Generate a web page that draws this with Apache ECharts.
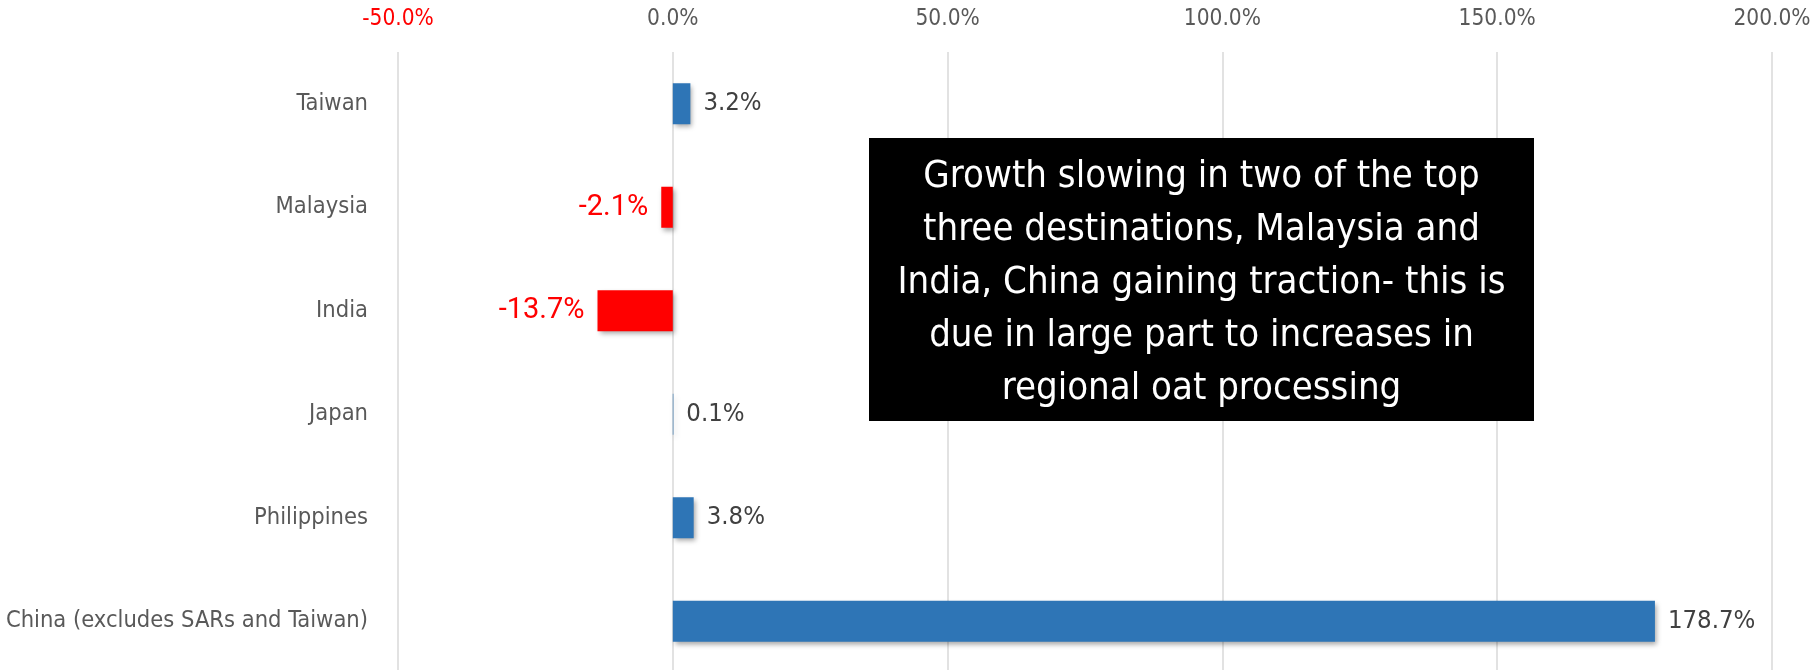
<!DOCTYPE html>
<html>
<head>
<meta charset="utf-8">
<script src="https://cdn.jsdelivr.net/npm/echarts@6/dist/echarts.min.js"></script>
<style>
  html, body { margin: 0; padding: 0; background: #ffffff; }
  #chart { width: 1814px; height: 670px; }
</style>
</head>
<body>
<div id="chart"></div>
<script>
// Export destinations and year-on-year growth (%)
const destinations = ['Taiwan', 'Malaysia', 'India', 'Japan', 'Philippines', 'China (excludes SARs and Taiwan)'];
const growthPct = [3.2, -2.1, -13.7, 0.1, 3.8, 178.7];
const axisTicks = { min: -50, max: 200, step: 50 };
const noteLines = [
  'Growth slowing in two of the top',
  'three destinations, Malaysia and',
  'India, China gaining traction- this is',
  'due in large part to increases in',
  'regional oat processing'
];

const NARROW = "'Liberation Sans Narrow', 'DejaVu Sans Condensed', 'Arial Narrow', sans-serif";
const BLUE = '#2E75B6';
const RED = '#FF0000';
const GREY = '#595959';

const barData = growthPct.map(v => {
  const neg = v < 0;
  return {
    value: v,
    itemStyle: { color: neg ? RED : BLUE },
    label: neg
      ? { position: 'left', color: RED, fontFamily: 'Roboto, sans-serif', fontSize: 29 }
      : { position: 'right', color: '#404040', fontFamily: NARROW, fontSize: 25.5 }
  };
});

const chart = echarts.init(document.getElementById('chart'), null, { renderer: 'canvas' });
chart.setOption({
  animation: false,
  backgroundColor: '#ffffff',
  grid: { left: 398, right: 42, top: 52, height: 621, containLabel: false, outerBoundsMode: 'none' },
  xAxis: {
    type: 'value',
    position: 'top',
    min: axisTicks.min,
    max: axisTicks.max,
    interval: axisTicks.step,
    axisLine: { show: false },
    axisTick: { show: false },
    splitLine: { show: true, lineStyle: { color: '#d9d9d9', width: 1.5 } },
    axisLabel: {
      margin: 21,
      fontFamily: NARROW,
      fontSize: 22.5,
      formatter: v => (v < 0 ? '{neg|' : '{pos|') + v.toFixed(1) + '%}',
      rich: {
        neg: { color: RED, fontFamily: NARROW, fontSize: 22.5 },
        pos: { color: GREY, fontFamily: NARROW, fontSize: 22.5 }
      }
    }
  },
  yAxis: {
    type: 'category',
    inverse: true,
    data: destinations,
    axisLine: { show: false },
    axisTick: { show: false },
    axisLabel: { margin: 30, color: GREY, fontFamily: NARROW, fontSize: 23.5 }
  },
  series: [{
    type: 'bar',
    data: barData,
    barWidth: 41,
    itemStyle: {
      shadowBlur: 5,
      shadowOffsetX: 2,
      shadowOffsetY: 3,
      shadowColor: 'rgba(0,0,0,0.35)'
    },
    label: {
      show: true,
      distance: 13,
      formatter: p => p.value.toFixed(1) + '%'
    }
  }],
  graphic: [{
    type: 'group',
    left: 869,
    top: 138,
    z: 100,
    children: [
      { type: 'rect', z: 100, shape: { x: 0, y: 0, width: 665, height: 283 }, style: { fill: '#000000' } },
      {
        type: 'text',
        z: 101,
        x: 332.5,
        y: 145,
        style: {
          text: noteLines.join('\n'),
          fill: '#ffffff',
          fontFamily: NARROW,
          fontSize: 38,
          lineHeight: 53,
          align: 'center',
          verticalAlign: 'middle'
        }
      }
    ]
  }]
});
</script>
</body>
</html>
